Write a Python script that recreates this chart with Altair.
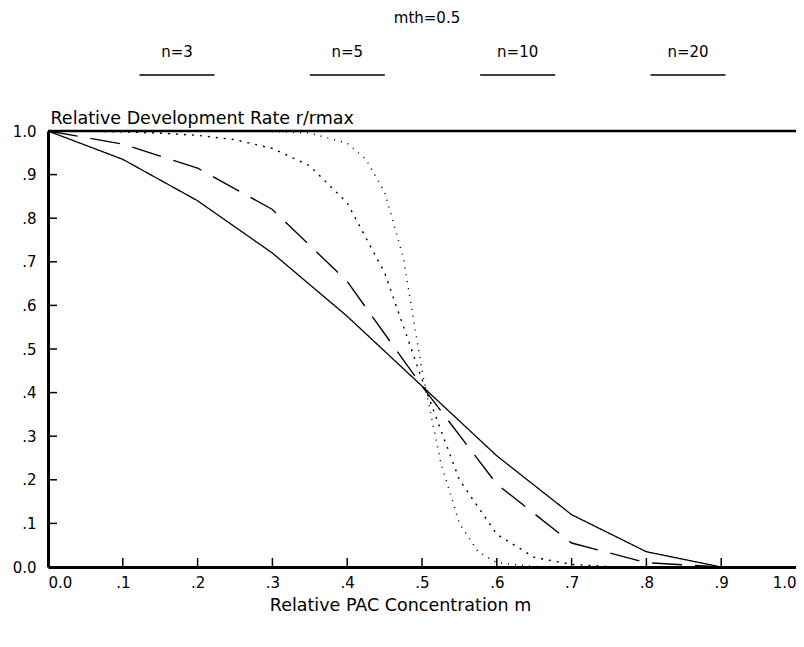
import altair as alt
import pandas as pd

# ---- data ----
m_coarse = [0.0, 0.1, 0.2, 0.3, 0.4, 0.5, 0.6, 0.7, 0.8, 0.9, 1.0]
r_n3 = [1.0, 0.935, 0.84, 0.72, 0.575, 0.415, 0.255, 0.12, 0.035, 0.0, 0.0]
r_n5 = [1.0, 0.97, 0.915, 0.82, 0.655, 0.415, 0.19, 0.055, 0.01, 0.0, 0.0]

m_n10 = [0.0, 0.05, 0.1, 0.15, 0.2, 0.25, 0.3, 0.35, 0.4, 0.45, 0.5, 0.55,
         0.6, 0.65, 0.7, 0.75, 0.8, 0.9, 1.0]
r_n10 = [1.0, 1.0, 0.998, 0.995, 0.99, 0.98, 0.96, 0.92, 0.835, 0.675, 0.43,
         0.2, 0.075, 0.022, 0.006, 0.001, 0.0, 0.0, 0.0]

m_n20 = [0.0, 0.1, 0.2, 0.3, 0.35, 0.4, 0.425, 0.45, 0.475, 0.5, 0.525, 0.55,
         0.575, 0.6, 0.65, 0.7, 0.8, 0.9, 1.0]
r_n20 = [1.0, 1.0, 1.0, 0.999, 0.995, 0.972, 0.935, 0.86, 0.71, 0.45, 0.24,
         0.1, 0.035, 0.01, 0.001, 0.0, 0.0, 0.0, 0.0]

series_labels = ["n=3", "n=5", "n=10", "n=20"]
axis_values = [0.0, 0.1, 0.2, 0.3, 0.4, 0.5, 0.6, 0.7, 0.8, 0.9, 1.0]
inner_ticks = [0.1, 0.2, 0.3, 0.4, 0.5, 0.6, 0.7, 0.8, 0.9]
title_text = "mth=0.5"

rows = []
for lab, ms, rs in [("n=3", m_coarse, r_n3), ("n=5", m_coarse, r_n5),
                    ("n=10", m_n10, r_n10), ("n=20", m_n20, r_n20)]:
    for m, r in zip(ms, rs):
        rows.append({"m": m, "r": r, "n": lab})
df = pd.DataFrame(rows)

W, H = 748, 436
FONT = "DejaVu Sans"
FS = 15
TFS = 17.5

label_expr = ("datum.value >= 1 ? '1.0' : datum.value == 0 ? '0.0' : "
              "substring(format(datum.value, '.1f'), 1)")

lines = alt.Chart(df).mark_line(color="black").encode(
    x=alt.X("m:Q", scale=alt.Scale(domain=[0, 1], nice=False, zero=False),
            axis=alt.Axis(values=axis_values, labelExpr=label_expr, ticks=False,
                          grid=False, domainWidth=3, domainColor="black",
                          labelFontSize=FS, labelPadding=8, labelOverlap=False,
                          labelColor="black", labelFlush=False,
                          labelAlign=alt.ExprRef(
                              expr="datum.value == 0 ? 'left' : datum.value >= 1 ? 'right' : 'center'"),
                          title="Relative PAC Concentration m", titleFontSize=TFS,
                          titleFontWeight="normal", titleColor="black",
                          titleX=352, titleY=43, titleAnchor="middle",
                          titleBaseline="alphabetic")),
    y=alt.Y("r:Q", scale=alt.Scale(domain=[0, 1], nice=False, zero=False),
            axis=alt.Axis(values=axis_values, labelExpr=label_expr, ticks=False,
                          grid=False, domainWidth=3, domainColor="black",
                          labelFontSize=FS, labelPadding=12, labelColor="black",
                          labelFlush=False,
                          title="Relative Development Rate r/rmax",
                          titleFontSize=TFS, titleFontWeight="normal",
                          titleColor="black", titleAngle=0, titleAlign="left",
                          titleBaseline="alphabetic", titleX=2, titleY=-8)),
    strokeDash=alt.StrokeDash("n:N", scale=alt.Scale(
        domain=series_labels, range=[[1, 0], [30, 13], [2, 6], [1, 6]]), legend=None),
    strokeWidth=alt.StrokeWidth("n:N", scale=alt.Scale(
        domain=series_labels, range=[1.3, 1.5, 1.1, 1.0]), legend=None),
    order=alt.Order("m:Q"),
)

tick_df = pd.DataFrame({"t": inner_ticks})
xticks = alt.Chart(tick_df).mark_rule(color="black", strokeWidth=1.5).encode(
    x=alt.X("t:Q", scale=alt.Scale(domain=[0, 1], nice=False, zero=False), axis=None),
    y=alt.value(H), y2=alt.value(H - 9),
)
yticks = alt.Chart(tick_df).mark_rule(color="black", strokeWidth=1.5).encode(
    y=alt.Y("t:Q", scale=alt.Scale(domain=[0, 1], nice=False, zero=False)),
    x=alt.value(0), x2=alt.value(9),
)
top_border = alt.Chart(pd.DataFrame({"k": [0]})).mark_rule(
    color="black", strokeWidth=2.5).encode(
    y=alt.value(0), x=alt.value(0), x2=alt.value(W))

leg_df = pd.DataFrame({"n": series_labels})
leg_base = alt.Chart(leg_df).transform_window(i="row_number()")
leg_x = alt.X("i:Q", scale=alt.Scale(domain=[1, 4], range=[129, 640], nice=False, zero=False),
              axis=None)
leg_text = leg_base.mark_text(fontSize=FS, font=FONT, color="black",
                              baseline="middle").encode(
    x=leg_x, y=alt.value(-79), text="n:N")
leg_line = leg_base.mark_tick(orient="horizontal", size=75, thickness=1.5,
                              color="black", opacity=1).encode(
    x=leg_x, y=alt.value(-56))

title = alt.Chart(pd.DataFrame({"t": [title_text]})).mark_text(
    fontSize=FS, font=FONT, color="black", baseline="middle").encode(
    x=alt.value(379), y=alt.value(-113), text="t:N")

chart = alt.layer(lines, xticks, yticks, top_border, leg_text, leg_line, title).resolve_scale(
    x="independent"
).properties(
    width=W, height=H,
    autosize=alt.AutoSizeParams(type="none"),
    padding={"left": 40, "top": 123, "right": 0, "bottom": 60},
).configure(font=FONT).configure_view(stroke=None)

chart.save("out.html", embed_options={"renderer": "svg", "actions": False})
